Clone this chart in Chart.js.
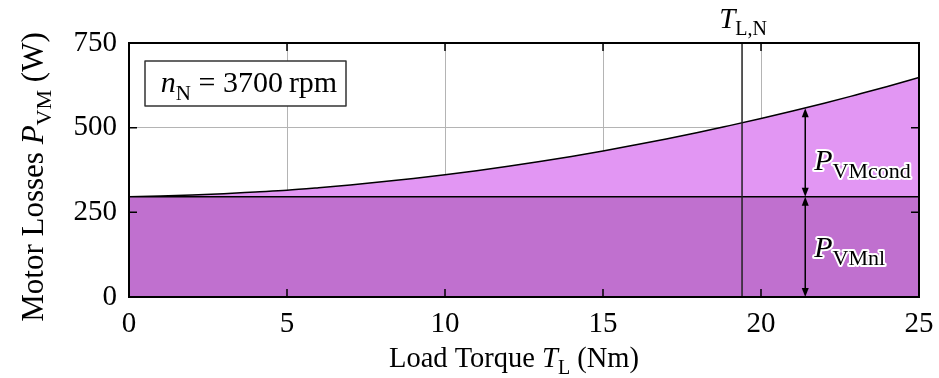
<!DOCTYPE html>
<html>
<head>
<meta charset="utf-8">
<script src="https://cdn.jsdelivr.net/npm/chart.js@4.4.0/dist/chart.umd.min.js"></script>
<style>
  html, body { margin: 0; padding: 0; background: #fff; }
  #wrap { width: 939px; height: 378px; }
</style>
</head>
<body>
<div id="wrap"><canvas id="chart" width="939" height="378"></canvas></div>
<script>
// values
const torque = [0, 1, 2, 3, 4, 5, 6, 7, 8, 9, 10, 11, 12, 13, 14, 15, 16, 17, 18, 19, 20, 21, 22, 23, 24, 25];
const lossNoLoad = [296, 296, 296, 296, 296, 296, 296, 296, 296, 296, 296, 296, 296, 296, 296, 296, 296, 296, 296, 296, 296, 296, 296, 296, 296, 296];
const lossTotal = [296, 298, 301, 305, 310, 315, 322.5, 331, 340, 350, 361, 373, 386, 400, 415, 431, 448.5, 466.5, 485.5, 506, 527, 549, 572, 596.5, 621.5, 648];
const xTicks = [0, 5, 10, 15, 20, 25];
const yTicks = [0, 250, 500, 750];
const ratedTorque = 19.4;
const arrowTorque = 21.4;
const arrowTop = 557;

const FONT = 'Liberation Serif';
Chart.defaults.font.family = FONT;
Chart.defaults.color = '#000';

// draws text made of pieces: {t, it (italic), sub (subscript)}
function richWidth(ctx, parts, size, subSize) {
  let w = 0;
  parts.forEach(p => {
    ctx.font = (p.it ? 'italic ' : '') + (p.sub ? subSize : size) + 'px "' + FONT + '"';
    w += ctx.measureText(p.t).width;
  });
  return w;
}
function drawRich(ctx, parts, x, y, size, subSize, align, halo) {
  const subSize2 = subSize || Math.round(size * 0.7);
  let cx = x;
  const w = richWidth(ctx, parts, size, subSize2);
  if (align === 'center') cx = x - w / 2;
  if (align === 'right') cx = x - w;
  ctx.textBaseline = 'alphabetic';
  ctx.textAlign = 'left';
  parts.forEach(p => {
    ctx.font = (p.it ? 'italic ' : '') + (p.sub ? subSize2 : size) + 'px "' + FONT + '"';
    const yy = p.sub ? y + size * 0.25 : y;
    if (halo) {
      ctx.strokeStyle = '#fff';
      ctx.lineWidth = 4;
      ctx.lineJoin = 'round';
      ctx.strokeText(p.t, cx, yy);
    }
    ctx.fillStyle = '#000';
    ctx.fillText(p.t, cx, yy);
    cx += ctx.measureText(p.t).width;
  });
}

function arrowHead(ctx, x, y, dir) {
  ctx.beginPath();
  ctx.moveTo(x, y);
  ctx.lineTo(x - 3.5, y - dir * 9);
  ctx.lineTo(x + 3.5, y - dir * 9);
  ctx.closePath();
  ctx.fill();
}
function doubleArrow(ctx, x, y1, y2) {
  ctx.strokeStyle = '#000';
  ctx.fillStyle = '#000';
  ctx.lineWidth = 1.5;
  ctx.beginPath();
  ctx.moveTo(x, y1 + 6);
  ctx.lineTo(x, y2 - 6);
  ctx.stroke();
  arrowHead(ctx, x, y1, -1);
  arrowHead(ctx, x, y2, 1);
}

const overlay = {
  id: 'overlay',
  afterDatasetsDraw(chart) {
    const ctx = chart.ctx;
    const a = chart.chartArea;
    const xs = chart.scales.x;
    const ys = chart.scales.y;
    ctx.save();

    // rated torque line
    const xr = xs.getPixelForValue(ratedTorque);
    ctx.strokeStyle = '#222';
    ctx.lineWidth = 1.5;
    ctx.beginPath();
    ctx.moveTo(xr, a.top);
    ctx.lineTo(xr, a.bottom);
    ctx.stroke();

    // inward tick marks on all four sides
    ctx.strokeStyle = '#000';
    ctx.lineWidth = 1.5;
    ctx.beginPath();
    xTicks.forEach(v => {
      const px = xs.getPixelForValue(v);
      ctx.moveTo(px, a.bottom); ctx.lineTo(px, a.bottom - 8);
      ctx.moveTo(px, a.top); ctx.lineTo(px, a.top + 8);
    });
    yTicks.forEach(v => {
      const py = ys.getPixelForValue(v);
      ctx.moveTo(a.left, py); ctx.lineTo(a.left + 8, py);
      ctx.moveTo(a.right, py); ctx.lineTo(a.right - 8, py);
    });
    ctx.stroke();

    // frame
    ctx.lineWidth = 2;
    ctx.strokeRect(a.left, a.top, a.right - a.left, a.bottom - a.top);

    // arrows
    const xa = xs.getPixelForValue(arrowTorque);
    doubleArrow(ctx, xa, ys.getPixelForValue(arrowTop), ys.getPixelForValue(lossNoLoad[0]));
    doubleArrow(ctx, xa, ys.getPixelForValue(lossNoLoad[0]), ys.getPixelForValue(0));

    // area labels
    drawRich(ctx, [{ t: 'P', it: true }, { t: 'VMcond', sub: true }], xa + 9, 170, 30, 22, 'left', true);
    drawRich(ctx, [{ t: 'P', it: true }, { t: 'VMnl', sub: true }], xa + 9, 257, 30, 22, 'left', true);

    // speed box
    ctx.fillStyle = '#fff';
    ctx.fillRect(145, 61, 201, 45);
    ctx.strokeStyle = '#333';
    ctx.lineWidth = 1.5;
    ctx.strokeRect(145, 61, 201, 45);
    drawRich(ctx, [{ t: 'n', it: true }, { t: 'N', sub: true }, { t: ' = 3700\u2009rpm' }], 249, 92, 30, 21, 'center');

    // rated torque label
    drawRich(ctx, [{ t: 'T', it: true }, { t: 'L,N', sub: true }], xr + 1, 28, 29, 20, 'center');

    // axis titles
    drawRich(ctx, [{ t: 'Load Torque ' }, { t: 'T', it: true }, { t: 'L', sub: true }, { t: ' (Nm)' }], 514, 367, 28.5, 20, 'center');
    ctx.translate(43, 177);
    ctx.rotate(-Math.PI / 2);
    drawRich(ctx, [{ t: 'Motor Losses ' }, { t: 'P', it: true }, { t: 'VM', sub: true }, { t: ' (W)' }], 0, 0, 31, 22, 'center');

    ctx.restore();
  }
};

const noLoadPoints = torque.map((t, i) => ({ x: t, y: lossNoLoad[i] }));
const totalPoints = torque.map((t, i) => ({ x: t, y: lossTotal[i] }));

new Chart(document.getElementById('chart'), {
  type: 'line',
  data: {
    datasets: [
      {
        label: 'P_VMnl',
        data: noLoadPoints,
        borderColor: '#000',
        borderWidth: 1.5,
        backgroundColor: 'rgb(192, 112, 207)',
        fill: 'origin',
        pointRadius: 0
      },
      {
        label: 'P_VMcond',
        data: totalPoints,
        borderColor: '#000',
        borderWidth: 1.5,
        backgroundColor: 'rgb(226, 150, 243)',
        fill: '-1',
        pointRadius: 0,
        cubicInterpolationMode: 'monotone'
      }
    ]
  },
  options: {
    responsive: false,
    animation: false,
    devicePixelRatio: 1,
    layout: { padding: { top: 43, right: 20, left: 0, bottom: 0 } },
    plugins: { legend: { display: false }, tooltip: { enabled: false } },
    scales: {
      x: {
        type: 'linear',
        min: 0,
        max: 25,
        z: 1,
        afterFit: s => { s.height = 81; s.paddingLeft = 0; s.paddingRight = 0; },
        afterBuildTicks: s => { s.ticks = xTicks.map(v => ({ value: v })); },
        ticks: { font: { size: 29 }, padding: 10, maxRotation: 0 },
        grid: { color: '#b4b4b4', lineWidth: 1, drawTicks: false },
        border: { display: false }
      },
      y: {
        min: 0,
        max: 750,
        z: 1,
        afterFit: s => { s.width = 129; s.paddingTop = 0; s.paddingBottom = 0; },
        afterBuildTicks: s => { s.ticks = yTicks.map(v => ({ value: v })); },
        ticks: { font: { size: 29 }, padding: 12 },
        grid: { color: '#b4b4b4', lineWidth: 1, drawTicks: false },
        border: { display: false }
      }
    }
  },
  plugins: [overlay]
});
</script>
</body>
</html>
